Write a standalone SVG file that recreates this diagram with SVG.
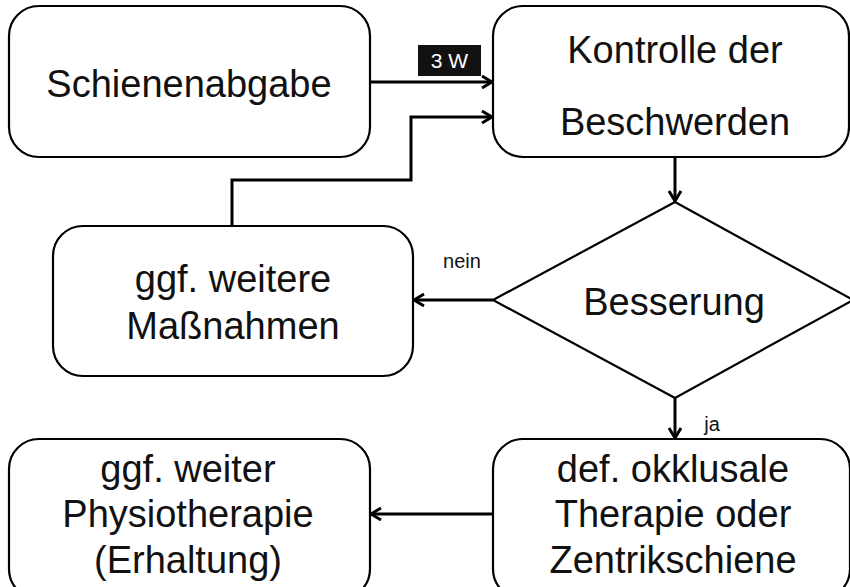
<svg xmlns="http://www.w3.org/2000/svg" width="850" height="587" viewBox="0 0 850 587">
<style>
.box{fill:#fff;stroke:#000;stroke-width:2.2}
.t{font-family:"Liberation Sans",Arial,sans-serif;font-size:38px;fill:#111;text-anchor:middle}
.s{font-family:"Liberation Sans",Arial,sans-serif;font-size:20px;fill:#111;text-anchor:middle}
.c{fill:none;stroke:#000;stroke-width:3}
</style>
<defs>
<marker id="ah" markerUnits="userSpaceOnUse" markerWidth="16" markerHeight="16" viewBox="0 0 16 16" refX="14" refY="8" orient="auto">
<path d="M4,2 L14,8 L4,14" fill="none" stroke="#000" stroke-width="3"/>
</marker>
</defs>
<rect width="850" height="587" fill="#fff"/>
<g id="connectors">
<path class="c" d="M370,82 L492,82" marker-end="url(#ah)"/>
<path class="c" d="M232,226 L232,180 L411,180 L411,117 L492,117" marker-end="url(#ah)"/>
<path class="c" d="M675,157 L675,201" marker-end="url(#ah)"/>
<path class="c" d="M493,300 L414,300" marker-end="url(#ah)"/>
<path class="c" d="M675,398 L675,438" marker-end="url(#ah)"/>
<path class="c" d="M493,514 L371,514" marker-end="url(#ah)"/>
<g id="label-3w">
<rect x="418" y="45" width="63" height="31" fill="#111"/>
<text x="449.5" y="68" font-family="Liberation Sans, Arial, sans-serif" font-size="21" fill="#fff" text-anchor="middle">3 W</text>
</g>
<text class="s" x="462" y="268">nein</text>
<text class="s" x="712" y="431">ja</text>
</g>
<g id="n1">
<rect class="box" x="9" y="6" width="361" height="151" rx="30"/>
<text class="t" x="189" y="97">Schienenabgabe</text>
</g>
<g id="n2">
<rect class="box" x="493" y="6" width="356" height="151" rx="30"/>
<text class="t" x="675" y="63">Kontrolle der</text>
<text class="t" x="675" y="135">Beschwerden</text>
</g>
<g id="n3">
<polygon class="box" points="675,202 853,300 675,398 493,300"/>
<text class="t" x="674" y="315">Besserung</text>
</g>
<g id="n4">
<rect class="box" x="53" y="226" width="360" height="150" rx="30"/>
<text class="t" x="233" y="292">ggf. weitere</text>
<text class="t" x="233" y="339">Maßnahmen</text>
</g>
<g id="n5">
<rect class="box" x="9" y="439" width="361" height="160" rx="30"/>
<text class="t" x="188" y="482">ggf. weiter</text>
<text class="t" x="188" y="527">Physiotherapie</text>
<text class="t" x="188" y="573">(Erhaltung)</text>
</g>
<g id="n6">
<rect class="box" x="493" y="439" width="357" height="160" rx="30"/>
<text class="t" x="673" y="482">def. okklusale</text>
<text class="t" x="673" y="527">Therapie oder</text>
<text class="t" x="673" y="573">Zentrikschiene</text>
</g>
</svg>
